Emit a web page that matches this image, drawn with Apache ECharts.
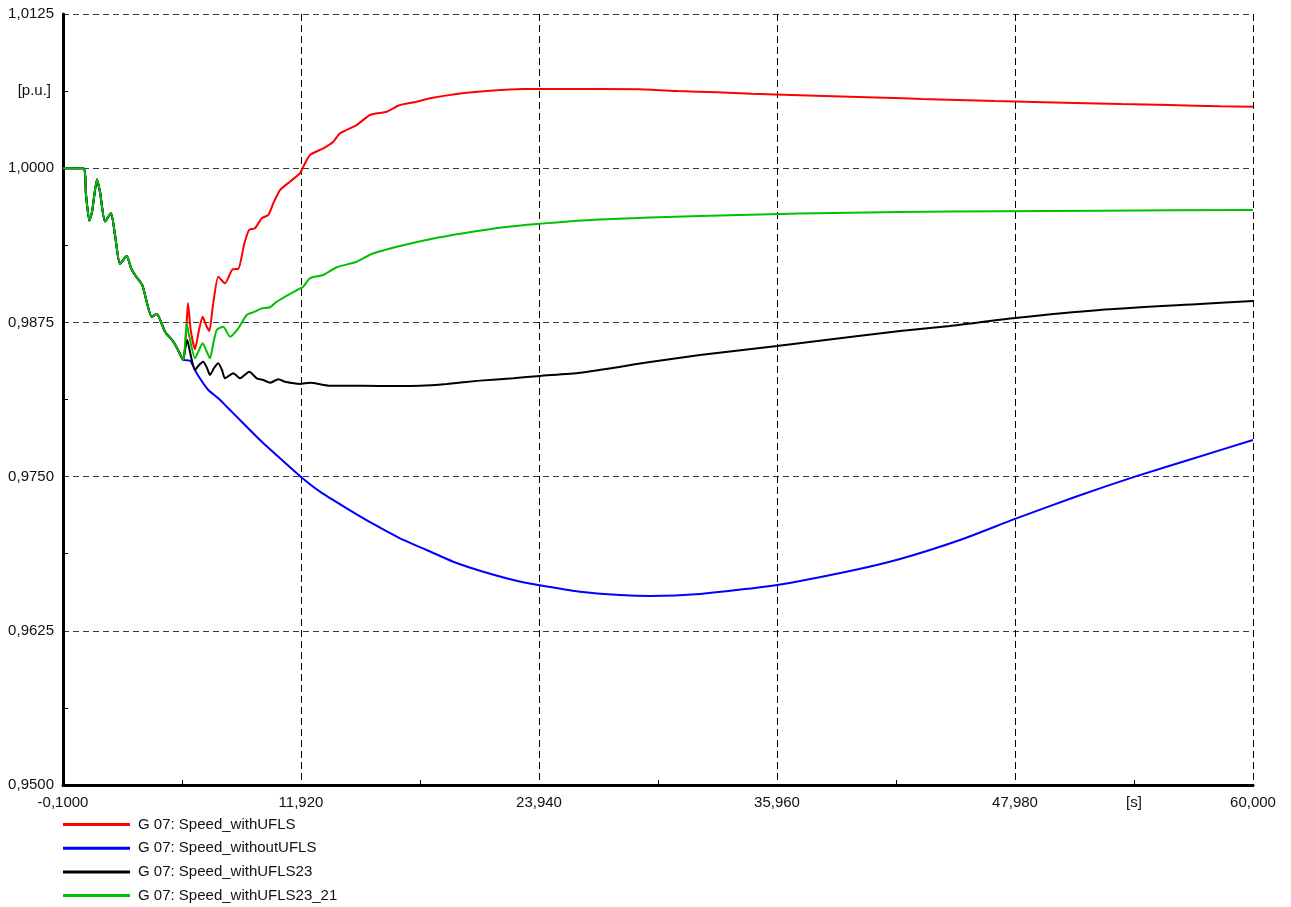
<!DOCTYPE html>
<html>
<head>
<meta charset="utf-8">
<script src="https://cdn.jsdelivr.net/npm/echarts@6.0.0/dist/echarts.min.js"></script>
<style>
html,body{margin:0;padding:0;background:#fff;}
#chart{width:1291px;height:907px;}
</style>
</head>
<body>
<div id="chart"></div>
<script>
// ---- data (time in s, speed in p.u.) ----
const commonT = [-0.1, 0.925, 1.062, 1.228, 1.365, 1.617, 1.769, 2.021, 2.324, 2.526, 2.779, 3.117, 3.334, 3.536, 3.905, 4.380, 4.632, 5.051, 5.471, 5.708, 5.976];
const commonV = [1.0000, 1.0000, 0.99783, 0.99576, 0.99645, 0.99909, 0.99807, 0.99568, 0.99634, 0.99459, 0.99224, 0.99288, 0.99191, 0.99134, 0.99053, 0.98796, 0.98818, 0.98675, 0.98594, 0.98526, 0.98445];

const redT = [6.112, 6.213, 6.349, 6.567, 6.768, 6.955, 7.122, 7.289, 7.476, 7.743, 8.081, 8.471, 8.754, 9.041, 9.294, 9.597, 9.935, 10.268, 10.521, 10.859, 11.364, 11.869, 12.036, 12.374, 13.046, 13.551, 13.890, 14.733, 15.405, 16.248, 16.920, 17.763, 18.435, 19.783, 21.465, 23.147, 25.0, 28.98, 30.955, 32.925, 34.668, 36.289, 37.915, 39.647, 41.395, 43.253, 45.102, 46.970, 48.94, 51.01, 53.333, 55.782, 58.33, 60.0];
const redV = [0.98648, 0.98907, 0.98689, 0.98532, 0.98689, 0.98796, 0.98729, 0.98680, 0.98891, 0.99121, 0.99067, 0.99181, 0.99183, 0.99378, 0.99499, 0.99513, 0.99594, 0.99621, 0.99716, 0.99823, 0.99891, 0.99959, 1.00012, 1.00107, 1.00161, 1.00215, 1.00283, 1.00350, 1.00431, 1.00458, 1.00512, 1.00539, 1.00567, 1.00602, 1.00628, 1.00642, 1.00642, 1.00640, 1.00626, 1.00615, 1.00604, 1.00596, 1.00588, 1.00580, 1.00572, 1.00561, 1.00553, 1.00545, 1.00537, 1.00529, 1.00520, 1.00512, 1.00502, 1.00499];

const blueT = [6.314, 6.652, 7.238, 7.743, 8.248, 8.839, 9.849, 10.859, 11.905, 12.880, 14.228, 15.571, 16.920, 18.268, 19.612, 20.960, 22.642, 23.904, 26.011, 28.03, 29.546, 32.07, 35.96, 39.647, 42.172, 45.202, 47.98, 51.01, 54.04, 57.07, 60.0];
const blueV = [0.98440, 0.98338, 0.98202, 0.98135, 0.98054, 0.97959, 0.97797, 0.97649, 0.97499, 0.97378, 0.97243, 0.97116, 0.97000, 0.96905, 0.96810, 0.96737, 0.96662, 0.96621, 0.96567, 0.96540, 0.96532, 0.96549, 0.96622, 0.96735, 0.96832, 0.96986, 0.97157, 0.97335, 0.97500, 0.97651, 0.97797];

const blackT = [6.061, 6.177, 6.314, 6.567, 6.768, 6.986, 7.173, 7.324, 7.526, 7.743, 7.930, 8.081, 8.501, 8.839, 9.309, 9.683, 10.016, 10.355, 10.774, 11.112, 11.465, 11.869, 12.374, 13.384, 14.228, 15.910, 17.930, 19.279, 20.960, 22.642, 23.990, 26.011, 29.546, 32.07, 35.96, 39.647, 42.172, 44.697, 47.98, 52.27, 57.32, 60.0];
const blackV = [0.98526, 0.98607, 0.98510, 0.98364, 0.98405, 0.98432, 0.98380, 0.98324, 0.98380, 0.98419, 0.98364, 0.98297, 0.98338, 0.98297, 0.98350, 0.98297, 0.98283, 0.98261, 0.98289, 0.98269, 0.98259, 0.98251, 0.98261, 0.98237, 0.98237, 0.98235, 0.98237, 0.98251, 0.98278, 0.98297, 0.98316, 0.98342, 0.98429, 0.98486, 0.98559, 0.98632, 0.98680, 0.98721, 0.98786, 0.98851, 0.98899, 0.98924];

const greenT = [6.061, 6.147, 6.263, 6.567, 6.768, 6.955, 7.122, 7.324, 7.476, 7.662, 7.996, 8.334, 8.754, 9.178, 9.597, 9.935, 10.355, 10.693, 11.112, 11.784, 12.021, 12.374, 13.046, 13.723, 14.733, 15.490, 16.920, 18.435, 20.117, 22.137, 23.824, 27.02, 32.07, 37.12, 42.172, 47.22, 52.27, 60.0];
const greenV = [0.98567, 0.98743, 0.98648, 0.98459, 0.98526, 0.98581, 0.98526, 0.98459, 0.98567, 0.98689, 0.98715, 0.98634, 0.98702, 0.98810, 0.98837, 0.98864, 0.98873, 0.98918, 0.98958, 0.99018, 0.99037, 0.99108, 0.99134, 0.99197, 0.99242, 0.99305, 0.99369, 0.99424, 0.99472, 0.99521, 0.99548, 0.99584, 0.99613, 0.99633, 0.99645, 0.99651, 0.99656, 0.99661];

const seriesNames = ['G 07: Speed_withUFLS', 'G 07: Speed_withoutUFLS', 'G 07: Speed_withUFLS23', 'G 07: Speed_withUFLS23_21'];
const seriesColors = ['#ff0000', '#0000ff', '#000000', '#00c000'];

// axis definition (PowerFactory-style): x from -0.1 to 60 in 5 steps, y from 0.95 to 1.0125 in 5 steps
const xMin = -0.1, xStep = 12.02, xSteps = 5;
const yMin = 0.95, yStep = 0.0125, ySteps = 5;

// ---- build options ----
function toPts(t, v) {
  const out = [];
  for (let i = 0; i < t.length; i++) {
    out.push([(t[i] - xMin) / xStep, (v[i] - yMin) / yStep]);
  }
  return out;
}
const tails = [[redT, redV], [blueT, blueV], [blackT, blackV], [greenT, greenV]];
const FONT = '"Liberation Sans", Arial, sans-serif';

const chart = echarts.init(document.getElementById('chart'), null, {renderer: 'canvas'});
chart.setOption({
  animation: false,
  backgroundColor: '#ffffff',
  grid: {left: 63, right: 38, top: 14, bottom: 122, containLabel: false},
  xAxis: {
    type: 'value', min: 0, max: xSteps, interval: 1,
    axisLine: {show: true, lineStyle: {color: '#000', width: 3}},
    axisTick: {show: false, inside: true},
    minorTick: {show: true, splitNumber: 2, length: 5, lineStyle: {color: '#000', width: 1}},
    splitLine: {show: true, showMinLine: false, lineStyle: {color: '#000', type: [7, 4], width: 1}},
    axisLabel: {
      margin: 10, fontSize: 15, fontFamily: FONT, color: '#111',
      formatter: function (v) {
        const t = xMin + v * xStep;
        if (Math.abs(v) < 1e-9) return t.toFixed(4).replace('.', ',');
        return t.toFixed(3).replace('.', ',');
      }
    }
  },
  yAxis: {
    type: 'value', min: 0, max: ySteps, interval: 1,
    axisLine: {show: true, lineStyle: {color: '#000', width: 3}},
    axisTick: {show: false, inside: true},
    minorTick: {show: true, splitNumber: 2, length: 5, lineStyle: {color: '#000', width: 1}},
    splitLine: {show: true, showMinLine: false, lineStyle: {color: '#3a3a3a', type: [6, 4], width: 1}},
    axisLabel: {
      margin: 9, fontSize: 15, fontFamily: FONT, color: '#111',
      formatter: function (v) {
        return (yMin + v * yStep).toFixed(4).replace('.', ',');
      }
    }
  },
  legend: {
    orient: 'vertical', left: 63, top: 817, padding: 0,
    icon: 'rect', itemWidth: 67, itemHeight: 3, itemGap: 8.7,
    textStyle: {fontSize: 15, fontFamily: FONT, color: '#111', padding: [0, 0, 0, 3]},
    data: seriesNames
  },
  graphic: [
    {type: 'text', x: 51, y: 91, style: {text: '[p.u.]', align: 'right', verticalAlign: 'middle', font: '15px ' + FONT, fill: '#111'}},
    {type: 'text', x: 1134, y: 803, style: {text: '[s]', align: 'center', verticalAlign: 'middle', font: '15px ' + FONT, fill: '#111'}}
  ],
  series: seriesNames.map(function (name, i) {
    return {
      name: name, type: 'line',
      data: toPts(commonT, commonV).concat(toPts(tails[i][0], tails[i][1])),
      symbol: 'none', showSymbol: false,
      smooth: 0.2,
      lineStyle: {color: seriesColors[i], width: 2},
      itemStyle: {color: seriesColors[i]},
      z: 2 + i
    };
  })
});
</script>
</body>
</html>
